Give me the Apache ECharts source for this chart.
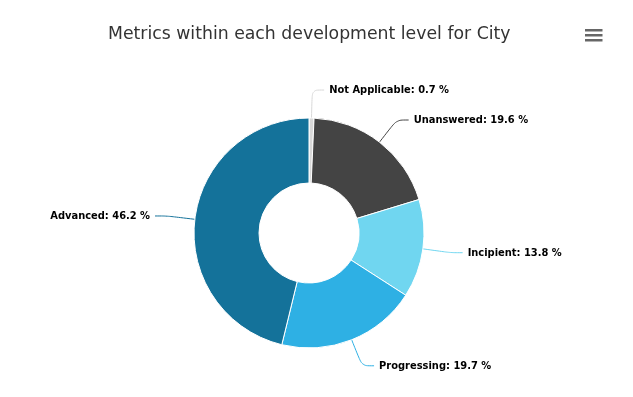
<!DOCTYPE html>
<html style="height: 100%">
<head>
	<meta charset="UTF-8">
	<title></title>
	<script src="https://cdn.jsdelivr.net/npm/echarts@6/dist/echarts.min.js" type="text/javascript"></script>
</head>
<body style="height: 100%; margin: 0">
	<div id="container" style="width: 633px; height: 397px;"></div>
	<script type="text/javascript">
		var levels = ['Not Applicable', 'Unanswered', 'Incipient', 'Progressing', 'Advanced'];
		var shares = [0.7, 19.6, 13.8, 19.7, 46.2];
		var colors = ['#d8d8d8', '#444444', '#70d6f0', '#2eb0e4', '#14729a'];

		var myChart = echarts.init(document.getElementById('container'));

		var pieData = levels.map(function (name, i) {
			return { name: name, value: shares[i], itemStyle: { color: colors[i] }, labelLine: { lineStyle: { color: colors[i] } } };
		});

		var option = {
			animation: false,
			title: {
				text: 'Metrics within each development level for City',
				left: 103,
				top: 21,
				textStyle: {
					color: '#333333',
					fontFamily: 'DejaVu Sans',
					fontWeight: 'normal',
					fontSize: 17.3
				}
			},
			// menu icon, top right
			graphic: [{
				type: 'group',
				left: 585,
				top: 29,
				children: [
					{ type: 'rect', shape: { x: 0, y: 0, width: 17.5, height: 2.5 }, style: { fill: '#666666' } },
					{ type: 'rect', shape: { x: 0, y: 5, width: 17.5, height: 2.5 }, style: { fill: '#666666' } },
					{ type: 'rect', shape: { x: 0, y: 10, width: 17.5, height: 2.5 }, style: { fill: '#666666' } }
				]
			}],
			series: [{
				type: 'pie',
				center: [309, 233],
				radius: [50, 115],
				startAngle: 90,
				clockwise: true,
				avoidLabelOverlap: false,
				itemStyle: {
					borderColor: '#ffffff',
					borderWidth: 1
				},
				label: {
					show: true,
					position: 'outside',
					formatter: function (p) { return p.name + ': ' + p.value + ' %'; },
					color: '#000000',
					fontFamily: '"DejaVu Sans Condensed", "DejaVu Sans"',
					fontWeight: 'bold',
					fontSize: 11
				},
				labelLine: {
					show: true,
					length: 28,
					length2: 12,
					smooth: 0.3,
					lineStyle: { width: 1 }
				},
				emphasis: { disabled: true },
				data: pieData
			}]
		};

		myChart.setOption(option, true);
	</script>
</body>
</html>
